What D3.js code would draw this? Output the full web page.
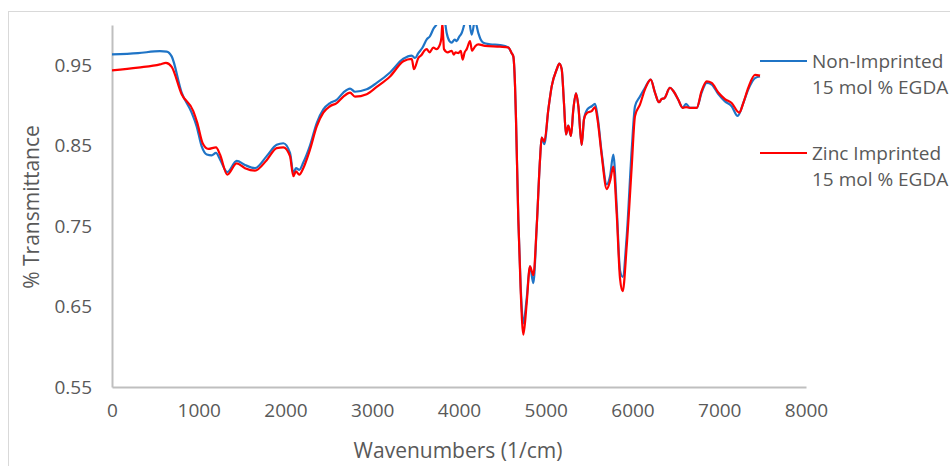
<!DOCTYPE html>
<html>
<head>
<meta charset="utf-8">
<script src="https://cdn.jsdelivr.net/npm/d3@7"></script>
<style>
  body { margin: 0; background: #fff; }
  text { font-family: "Open Sans", sans-serif; fill: #595959; }
</style>
</head>
<body>
<div id="chart"></div>
<script>
// tick values
var xTicks = [0, 1000, 2000, 3000, 4000, 5000, 6000, 7000, 8000];
var yTicks = [0.55, 0.65, 0.75, 0.85, 0.95];

// [wavenumber, transmittance]
var nonImprinted = [
  [0,0.9634],[300,0.965],[553,0.9675],[630,0.967],[688,0.961],[803,0.916],[918,0.891],[976,0.874],
  [1034,0.849],[1092,0.839],[1149,0.838],[1199,0.841],[1245,0.833],[1329,0.817],[1437,0.831],[1533,0.826],
  [1648,0.822],[1783,0.837],[1898,0.851],[1975,0.853],[2052,0.841],[2090,0.816],[2121,0.822],[2159,0.820],
  [2205,0.829],[2282,0.850],[2360,0.878],[2436,0.895],[2513,0.903],[2590,0.907],[2667,0.916],[2744,0.921],
  [2801,0.917],[2936,0.920],[3051,0.928],[3205,0.941],[3358,0.958],[3455,0.962],[3493,0.959],[3531,0.965],
  [3580,0.972],[3628,0.982],[3665,0.986],[3704,0.995],[3750,1.003],[3790,1.02],[3830,1.01],[3858,0.990],
  [3890,0.980],[3916,0.978],[3950,0.982],[3973,0.980],[4000,0.985],[4031,0.990],[4069,1.003],[4108,1.01],
  [4146,0.988],[4184,1.005],[4223,0.990],[4250,0.982],[4280,0.978],[4357,0.976],[4473,0.975],[4569,0.972],
  [4607,0.965],[4626,0.961],[4646,0.924],[4657,0.883],[4684,0.758],[4711,0.675],[4742,0.629],[4780,0.660],
  [4818,0.700],[4857,0.679],[4896,0.750],[4934,0.833],[4953,0.860],[4984,0.852],[5030,0.895],[5069,0.924],
  [5127,0.945],[5157,0.952],[5184,0.945],[5210,0.903],[5233,0.864],[5260,0.875],[5291,0.862],[5318,0.895],
  [5349,0.915],[5376,0.899],[5414,0.851],[5441,0.883],[5479,0.895],[5530,0.899],[5568,0.902],[5599,0.885],
  [5645,0.841],[5703,0.802],[5741,0.812],[5779,0.839],[5818,0.774],[5856,0.695],[5887,0.687],[5933,0.737],
  [5991,0.845],[6029,0.899],[6086,0.911],[6144,0.922],[6210,0.932],[6259,0.916],[6305,0.904],[6336,0.908],
  [6367,0.909],[6432,0.922],[6471,0.918],[6528,0.907],[6579,0.897],[6617,0.902],[6663,0.897],[6740,0.897],
  [6797,0.916],[6855,0.928],[6913,0.926],[6989,0.914],[7066,0.905],[7143,0.899],[7212,0.887],[7277,0.903],
  [7335,0.920],[7412,0.934],[7470,0.936]
];

var zincImprinted = [
  [0,0.9435],[300,0.947],[553,0.951],[622,0.953],[688,0.948],[803,0.914],[937,0.893],[984,0.878],
  [1045,0.853],[1110,0.846],[1199,0.848],[1245,0.839],[1329,0.814],[1437,0.828],[1533,0.822],[1648,0.819],
  [1783,0.832],[1898,0.847],[1975,0.848],[2052,0.837],[2090,0.812],[2121,0.818],[2159,0.814],[2205,0.822],
  [2282,0.845],[2360,0.874],[2436,0.891],[2513,0.899],[2590,0.903],[2667,0.911],[2744,0.916],[2801,0.911],
  [2936,0.914],[3051,0.923],[3205,0.936],[3358,0.955],[3455,0.958],[3481,0.945],[3531,0.959],[3570,0.963],
  [3600,0.968],[3628,0.970],[3660,0.966],[3704,0.972],[3740,0.970],[3781,0.976],[3798,0.985],[3808,1.002],
  [3818,0.985],[3827,0.970],[3870,0.966],[3916,0.968],[3940,0.963],[3960,0.966],[3993,0.965],[4020,0.968],
  [4042,0.957],[4065,0.966],[4089,0.970],[4127,0.980],[4150,0.968],[4165,0.970],[4190,0.974],[4223,0.976],
  [4300,0.974],[4473,0.973],[4569,0.972],[4607,0.965],[4626,0.961],[4646,0.924],[4657,0.883],[4684,0.758],
  [4711,0.670],[4742,0.615],[4780,0.654],[4818,0.700],[4857,0.689],[4896,0.750],[4934,0.833],[4953,0.860],
  [4984,0.855],[5030,0.895],[5069,0.924],[5127,0.945],[5157,0.952],[5184,0.945],[5210,0.903],[5233,0.864],
  [5260,0.875],[5291,0.862],[5318,0.895],[5349,0.915],[5376,0.899],[5414,0.851],[5441,0.883],[5479,0.891],
  [5530,0.893],[5568,0.898],[5599,0.881],[5645,0.838],[5703,0.796],[5741,0.806],[5779,0.824],[5818,0.765],
  [5856,0.685],[5887,0.669],[5933,0.725],[5991,0.824],[6029,0.887],[6086,0.901],[6144,0.920],[6210,0.932],
  [6259,0.916],[6305,0.904],[6336,0.908],[6367,0.909],[6432,0.922],[6471,0.918],[6528,0.907],[6579,0.897],
  [6617,0.898],[6663,0.897],[6740,0.897],[6797,0.918],[6855,0.930],[6913,0.928],[6989,0.916],[7066,0.908],
  [7143,0.903],[7231,0.891],[7277,0.903],[7335,0.922],[7412,0.938],[7470,0.937]
];

var seriesNames = [["Non-Imprinted", "15 mol % EGDA"], ["Zinc Imprinted", "15 mol % EGDA"]];
var seriesColors = ["#1f74c6", "#ff0000"];

var W = 950, H = 466;
var margin = {top: 25, right: 144, bottom: 79, left: 112},
    width = W - margin.left - margin.right,
    height = H - margin.top - margin.bottom;

var root = d3.select("#chart").append("svg")
    .attr("width", W)
    .attr("height", H);

// outer chart border
root.append("rect")
    .attr("x", 8.5).attr("y", 11.5)
    .attr("width", W).attr("height", H)
    .attr("fill", "none")
    .attr("stroke", "#d9d9d9");

var svg = root.append("g")
    .attr("transform", "translate(" + margin.left + "," + margin.top + ")");

var x = d3.scaleLinear().domain([0, 8000]).range([0, width]);
var y = d3.scaleLinear().domain([0.55, 1.0]).range([height, 0]);

svg.append("clipPath").attr("id", "clip")
  .append("rect").attr("x", 0).attr("y", 0).attr("width", width).attr("height", height);

// X axis
var xAxis = svg.append("g")
    .attr("transform", "translate(0," + height + ")")
    .call(d3.axisBottom(x).tickValues(xTicks).tickSize(0).tickPadding(17).tickFormat(d3.format("d")));
xAxis.select(".domain").attr("stroke", "#bfbfbf").attr("stroke-width", 2);
xAxis.selectAll("text").style("font-size", "19px").attr("fill", "#595959");

// Y axis
var yAxis = svg.append("g")
    .call(d3.axisLeft(y).tickValues(yTicks).tickSize(0).tickPadding(20).tickFormat(d3.format(".2f")));
yAxis.select(".domain").attr("stroke", "#bfbfbf").attr("stroke-width", 2);
yAxis.selectAll("text").style("font-size", "19px").attr("fill", "#595959");

// lines
var line = d3.line()
    .x(function(d) { return x(d[0]); })
    .y(function(d) { return y(d[1]); })
    .curve(d3.curveMonotoneX);

[nonImprinted, zincImprinted].forEach(function(s, i) {
  svg.append("path")
    .datum(s)
    .attr("clip-path", "url(#clip)")
    .attr("fill", "none")
    .attr("stroke", seriesColors[i])
    .attr("stroke-width", 2.2)
    .attr("stroke-linejoin", "round")
    .attr("d", line);
});

// axis titles
root.append("text")
    .attr("x", 458).attr("y", 458)
    .attr("text-anchor", "middle")
    .style("font-size", "21px")
    .text("Wavenumbers (1/cm)");

root.append("text")
    .attr("transform", "translate(39,207) rotate(-90)")
    .attr("text-anchor", "middle")
    .style("font-size", "21px")
    .text("% Transmittance");

// legend
var legendY = [61, 153];
seriesNames.forEach(function(lines, i) {
  var g = root.append("g").attr("transform", "translate(760," + legendY[i] + ")");
  g.append("line")
    .attr("x1", 0).attr("x2", 47)
    .attr("stroke", seriesColors[i]).attr("stroke-width", 2.2);
  lines.forEach(function(t, j) {
    g.append("text")
      .attr("x", 52).attr("y", 7 + j * 26)
      .style("font-size", "19px")
      .text(t);
  });
});
</script>
</body>
</html>
